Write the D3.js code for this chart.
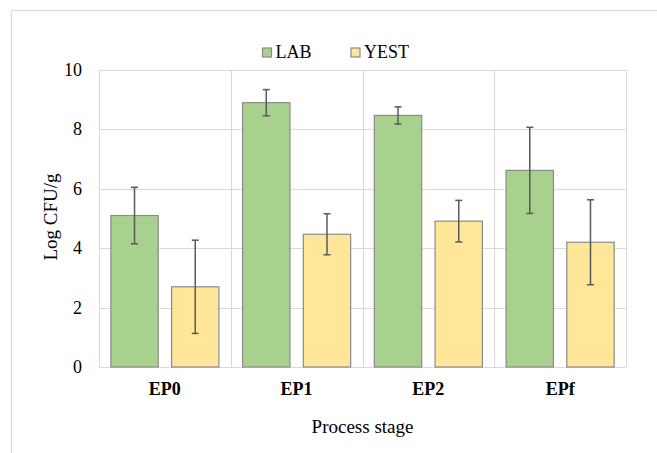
<!DOCTYPE html>
<html><head><meta charset="utf-8">
<script src="https://cdn.jsdelivr.net/npm/d3@7"></script>
<style>body{margin:0;background:#fff}svg{display:block}text{font-family:"Liberation Serif","Times New Roman",Times,serif}</style>
</head><body>
<script>
const categories = ["EP0","EP1","EP2","EPf"];
const seriesNames = ["LAB","YEST"];
const labValues = [5.10, 8.90, 8.47, 6.62];
const labErrors = [0.95, 0.44, 0.29, 1.45];
const yestValues = [2.70, 4.47, 4.91, 4.20];
const yestErrors = [1.57, 0.69, 0.70, 1.43];
const yTicks = [0,2,4,6,8,10];
const colors = {LAB:"#A9D18E", YEST:"#FFE699"};

(function(){
const W=657,H=453;
const svg=d3.select("body").append("svg").attr("width",W).attr("height",H);

svg.append("rect").attr("x",11.5).attr("y",10.5).attr("width",660).attr("height",460)
  .attr("fill","none").attr("stroke","#d9d9d9").attr("stroke-width",1);

const pL=99,pR=626,pT=70,pB=367;
const x=d3.scaleBand().domain(categories).range([pL,pR]).padding(0);
const xs=d3.scaleBand().domain(seriesNames).range([0,x.bandwidth()]).paddingInner(0.22).paddingOuter(0.195);
const y=d3.scaleLinear().domain([0,10]).range([pB,pT]);

const g=svg.append("g");
g.selectAll(".hg").data(yTicks).enter().append("line")
  .attr("x1",pL).attr("x2",pR).attr("y1",d=>Math.round(y(d))+0.5).attr("y2",d=>Math.round(y(d))+0.5)
  .attr("stroke","#d9d9d9").attr("stroke-width",1);
const bounds=categories.map(c=>x(c)).concat([x(categories[categories.length-1])+x.bandwidth()]);
g.selectAll(".vg").data(bounds).enter().append("line")
  .attr("x1",d=>Math.round(d)+0.5).attr("x2",d=>Math.round(d)+0.5).attr("y1",pT).attr("y2",pB)
  .attr("stroke","#d9d9d9").attr("stroke-width",1);

const data=[];
categories.forEach((c,i)=>{
  data.push({cat:c,s:"LAB",v:labValues[i],e:labErrors[i]});
  data.push({cat:c,s:"YEST",v:yestValues[i],e:yestErrors[i]});
});

g.selectAll(".bar").data(data).enter().append("rect")
  .attr("x",d=>x(d.cat)+xs(d.s)).attr("width",xs.bandwidth())
  .attr("y",d=>y(d.v)).attr("height",d=>y(0)-y(d.v))
  .attr("fill",d=>colors[d.s]).attr("stroke","#8a8a8a").attr("stroke-width",1.2);

const eb=g.selectAll(".eb").data(data).enter().append("g");
const cx=d=>x(d.cat)+xs(d.s)+xs.bandwidth()/2;
eb.append("line").attr("x1",cx).attr("x2",cx).attr("y1",d=>y(d.v+d.e)).attr("y2",d=>y(d.v-d.e))
  .attr("stroke","#595959").attr("stroke-width",1.5);
eb.append("line").attr("x1",d=>cx(d)-3.5).attr("x2",d=>cx(d)+3.5).attr("y1",d=>y(d.v+d.e)).attr("y2",d=>y(d.v+d.e))
  .attr("stroke","#595959").attr("stroke-width",1.5);
eb.append("line").attr("x1",d=>cx(d)-3.5).attr("x2",d=>cx(d)+3.5).attr("y1",d=>y(d.v-d.e)).attr("y2",d=>y(d.v-d.e))
  .attr("stroke","#595959").attr("stroke-width",1.5);

svg.selectAll(".yt").data(yTicks).enter().append("text")
  .attr("x",82).attr("y",d=>y(d)+6).attr("text-anchor","end")
  .attr("font-size",18).attr("fill","#000").text(d=>d);
svg.selectAll(".xt").data(categories).enter().append("text")
  .attr("x",d=>x(d)+x.bandwidth()/2).attr("y",395).attr("text-anchor","middle")
  .attr("font-size",18).attr("font-weight","bold").attr("fill","#000").text(d=>d);
svg.append("text").attr("x",(pL+pR)/2).attr("y",433).attr("text-anchor","middle")
  .attr("font-size",19).attr("fill","#000").text("Process stage");
svg.append("text").attr("transform","translate(57,217) rotate(-90)").attr("text-anchor","middle")
  .attr("font-size",19).attr("fill","#000").text("Log CFU/g");

const legX=[262.5,351];
const lg=svg.selectAll(".lg").data(seriesNames).enter().append("g")
  .attr("transform",(d,i)=>`translate(${legX[i]},48)`);
lg.append("rect").attr("width",9).attr("height",9).attr("fill",d=>colors[d]).attr("stroke","#8a8a8a").attr("stroke-width",1.2);
lg.append("text").attr("x",13).attr("y",10).attr("font-size",18).attr("fill","#000").text(d=>d);
})();
</script>
</body></html>
